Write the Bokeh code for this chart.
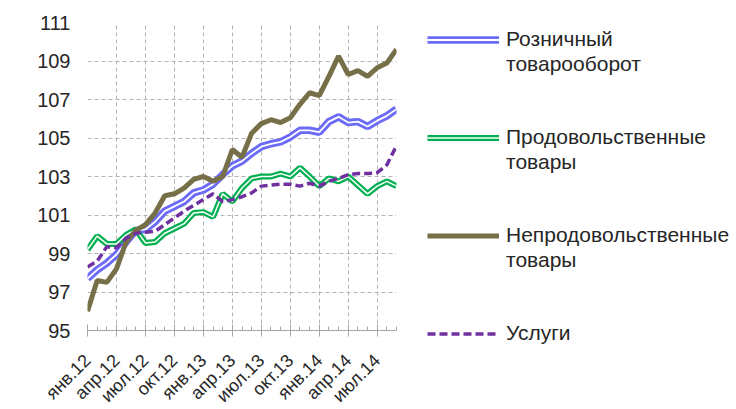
from bokeh.plotting import figure
from bokeh.models import Range1d, FixedTicker, Legend, LegendItem, ColumnDataSource
from bokeh.embed import file_html
from bokeh.resources import INLINE

# Monthly index, Jan 2012 .. Sep 2014
tick_labels = ["янв.12", "апр.12", "июл.12", "окт.12", "янв.13", "апр.13",
               "июл.13", "окт.13", "янв.14", "апр.14", "июл.14"]
months = list(range(33))

retail = [97.7, 98.15, 98.5, 98.95, 99.6, 100.2, 100.25, 100.65, 101.2, 101.45,
          101.7, 102.15, 102.3, 102.6, 103.1, 103.55, 103.8, 104.2, 104.55, 104.7,
          104.8, 105.05, 105.4, 105.4, 105.3, 105.85, 106.1, 105.8, 105.85, 105.6,
          105.9, 106.15, 106.5]
food = [99.2, 99.9, 99.5, 99.5, 99.97, 100.25, 99.55, 99.6, 100.05, 100.3,
        100.55, 101.1, 101.15, 100.9, 102.1, 101.7, 102.4, 102.9, 103.0, 103.0,
        103.15, 103.0, 103.45, 103.0, 102.5, 102.9, 102.75, 103.0, 102.55, 102.1,
        102.5, 102.75, 102.5]
nonfood = [96.0, 97.6, 97.5, 98.2, 99.6, 100.2, 100.5, 101.1, 102.0, 102.1,
           102.4, 102.85, 103.0, 102.75, 103.0, 104.4, 104.0, 105.25, 105.75, 105.95,
           105.8, 106.05, 106.75, 107.35, 107.2, 108.2, 109.25, 108.3, 108.5, 108.2,
           108.65, 108.9, 109.6]
services = [98.3, 98.6, 99.35, 99.3, 99.8, 100.05, 100.1, 100.15, 100.5, 100.85,
            101.2, 101.5, 101.8, 102.1, 101.7, 101.8, 101.95, 102.15, 102.5, 102.55,
            102.6, 102.6, 102.5, 102.65, 102.5, 102.75, 102.9, 103.1, 103.15, 103.15,
            103.2, 103.6, 104.6]
y_ticks = [95, 97, 99, 101, 103, 105, 107, 109, 111]

src = ColumnDataSource(dict(x=months, retail=retail, food=food,
                            nonfood=nonfood, services=services))

FONT = "Liberation Sans"
TXT = "#262626"

p = figure(output_backend="svg", toolbar_location=None,
           frame_width=309, frame_height=308,
           x_range=Range1d(0, 32), y_range=Range1d(95, 111),
           min_border_left=87, min_border_top=22, min_border_bottom=78,
           min_border_right=0)
p.outline_line_color = None
p.background_fill_color = "white"
p.border_fill_color = "white"

# axes
p.xaxis.ticker = FixedTicker(ticks=list(range(0, 33, 3)), minor_ticks=months)
p.xaxis.major_label_overrides = {i * 3: lab for i, lab in enumerate(tick_labels)}
p.xaxis.major_label_orientation = 0.785398
p.xaxis.axis_line_color = "#a6a6a6"
p.xaxis.major_tick_line_color = "#a6a6a6"
p.xaxis.minor_tick_line_color = "#a6a6a6"
p.xaxis.major_tick_in = 6
p.xaxis.major_tick_out = 6
p.xaxis.minor_tick_in = 4
p.xaxis.minor_tick_out = 0
p.xaxis.major_label_standoff = 21
p.xaxis.major_label_text_font = FONT
p.xaxis.major_label_text_font_size = "18px"
p.xaxis.major_label_text_color = TXT

p.yaxis.ticker = FixedTicker(ticks=y_ticks)
p.yaxis.axis_line_color = None
p.yaxis.major_tick_line_color = None
p.yaxis.minor_tick_line_color = None
p.yaxis.major_tick_out = 0
p.yaxis.major_tick_in = 0
p.yaxis.major_label_standoff = 17
p.yaxis.major_label_text_font = FONT
p.yaxis.major_label_text_font_size = "20px"
p.yaxis.major_label_text_color = TXT

p.xgrid.ticker = FixedTicker(ticks=list(range(0, 33, 3)))
p.xgrid.grid_line_color = "#b3b3b3"
p.xgrid.grid_line_dash = "4 3"
p.ygrid.ticker = FixedTicker(ticks=y_ticks[1:])
p.ygrid.grid_line_color = "#b3b3b3"
p.ygrid.grid_line_dash = "4 3"

# series
b1 = p.line("x", "retail", source=src, line_color="#6b6bf7", line_width=7.5)
b2 = p.line("x", "retail", source=src, line_color="white", line_width=1.8)
g1 = p.line("x", "food", source=src, line_color="#00b050", line_width=6)
g2 = p.line("x", "food", source=src, line_color="white", line_width=1.5)
o1 = p.line("x", "nonfood", source=src, line_color="#766f47", line_width=5)
s1 = p.line("x", "services", source=src, line_color="#7030a0", line_width=3.5,
            line_dash="8 4")

rows = [("Розничный", [b1, b2]), ("товарооборот", []), (" ", []), (" ", []),
        ("Продовольственные", [g1, g2]), ("товары", []), (" ", []), (" ", []),
        ("Непродовольственные", [o1]), ("товары", []), (" ", []), (" ", []),
        ("Услуги", [s1])]
items = [LegendItem(label=lab, renderers=r) for lab, r in rows]
legend = Legend(items=items, location=(31, -15), orientation="vertical",
                glyph_width=72, glyph_height=23, label_height=20, spacing=1,
                label_standoff=7, padding=0, margin=0,
                border_line_color=None, background_fill_alpha=0,
                label_text_font=FONT, label_text_font_size="21px",
                label_text_color=TXT)
p.add_layout(legend, "right")

open("out.html", "w").write(file_html(p, INLINE))
